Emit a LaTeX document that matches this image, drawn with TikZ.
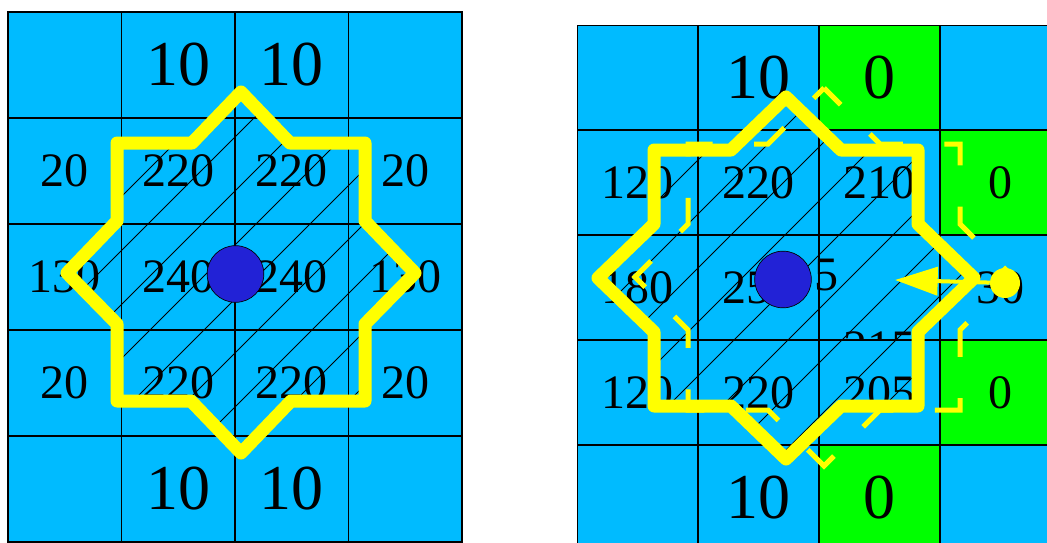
\documentclass[tikz,border=0pt]{standalone}
\usepackage{fontspec}
\setmainfont{Liberation Serif}
\usetikzlibrary{arrows.meta}
\definecolor{cellblue}{RGB}{0,187,255}
\definecolor{cellgreen}{RGB}{0,255,0}
\definecolor{dotblue}{RGB}{34,34,214}
\definecolor{ring}{RGB}{255,255,0}
\newcommand{\leftstar}{(241,92) -- (290,143) -- (365,143) -- (365,221) -- (415,273) -- (365,324) -- (365,401) -- (291,401) -- (241,453) -- (191,401) -- (117,401) -- (117,324) -- (67,273) -- (117,221) -- (117,143) -- (192,143) -- cycle}
\newcommand{\rightstar}{(786,97) -- (841,150) -- (918,150) -- (918,224) -- (974,278) -- (918,332) -- (918,406) -- (841,406) -- (786,459) -- (731,406) -- (654,406) -- (654,332) -- (598,278) -- (654,224) -- (654,150) -- (731,150) -- cycle}
\newcommand{\shiftstar}{(824,88) -- (880,144) -- (960,144) -- (960,224) -- (1013,277) -- (960,330) -- (960,410) -- (880,410) -- (824,466) -- (768,410) -- (688,410) -- (688,330) -- (635,277) -- (688,224) -- (688,144) -- (768,144) -- cycle}

\begin{document}
\begin{tikzpicture}[x=0.75pt,y=-0.75pt,
  cell/.style={draw=black,line width=0.9pt,fill=cellblue},
  num/.style={inner sep=0pt,font=\fontsize{36}{40}\selectfont},
  big/.style={inner sep=0pt,font=\fontsize{48}{52}\selectfont},
  hatch/.style={black,line width=0.6pt},
  star/.style={draw=ring,line width=9.75pt,line join=round},
  dashstar/.style={draw=ring,line width=3.75pt,dash pattern=on 27.75pt off 31.1pt,dash phase=10.1pt},
  centre/.style={circle,draw=black,line width=0.5pt,fill=dotblue,minimum size=42.5pt,inner sep=0pt},
  target/.style={circle,fill=ring,minimum size=22.5pt,inner sep=0pt},
  arrow/.style={-{Triangle[length=32pt,width=21pt]},ring,line width=3pt}]
\useasboundingbox (0,0) rectangle (1047,543);
\foreach \c in {0,...,3} \foreach \r in {0,...,4}
  \draw[cell] ({8+113.5*\c},{12+106*\r}) rectangle ++(113.5,106);
\foreach \r/\c/\t in {1/2/10,1/3/10,5/2/10,5/3/10}
  \node[big] (l-\r-\c) at ({8+113.5*(\c-0.5)},{12+106*(\r-0.5)}) {\t};
\foreach \r/\c/\t in {2/1/20,2/2/220,2/3/220,2/4/20,3/1/130,3/2/240,3/3/240,3/4/130,4/1/20,4/2/220,4/3/220,4/4/20}
  \node[num] (l-\r-\c) at ({8+113.5*(\c-0.5)},{12+106*(\r-0.5)}) {\t};
\begin{scope}
\clip \leftstar;
\foreach \c in {264,318,...,750} \draw[hatch] ({\c-470},470) -- ({\c-80},80);
\end{scope}
\draw[star] \leftstar;
\node[centre] (lcentre) at (235.5,274) {};

\begin{scope}
\clip (577,25) rectangle (1047,543);
\foreach \c in {0,...,3} \foreach \r in {0,...,4}
  \draw[cell] ({577+121*\c},{25+105*\r}) rectangle ++(121,105);
\foreach \r/\c in {1/3,2/4,4/4,5/3}
  \draw[cell,fill=cellgreen] ({577+121*(\c-1)},{25+105*(\r-1)}) rectangle ++(121,105);
\foreach \r/\c/\t in {1/2/10,1/3/0,5/2/10,5/3/0}
  \node[big] (r-\r-\c) at ({577+121*(\c-0.5)},{25+105*(\r-0.5)}) {\t};
\foreach \r/\c/\t in {2/1/120,2/2/220,2/3/210,2/4/0,3/1/180,3/2/255,3/4/30,4/1/120,4/2/220,4/3/205,4/4/0}
  \node[num] (r-\r-\c) at ({577+121*(\c-0.5)},{25+105*(\r-0.5)}) {\t};
\node[num] (r-3-3) at (826,275) {5};
\begin{scope}
\clip (819,235) rectangle (940,340);
\node[num] (hidden) at (879.5,348) {215};
\end{scope}
\end{scope}
\begin{scope}
\clip \rightstar;
\foreach \c in {804,858,...,1290} \draw[hatch] ({\c-470},470) -- ({\c-80},80);
\end{scope}
\draw[star] \rightstar;
\draw[dashstar] \shiftstar;
\node[centre] (rcentre) at (783,279.5) {};
\node[target] (ydot) at (1005,283) {};
\coordinate (tip) at (895,280);
\draw[arrow] (ydot) -- (tip);
\end{tikzpicture}
\end{document}
